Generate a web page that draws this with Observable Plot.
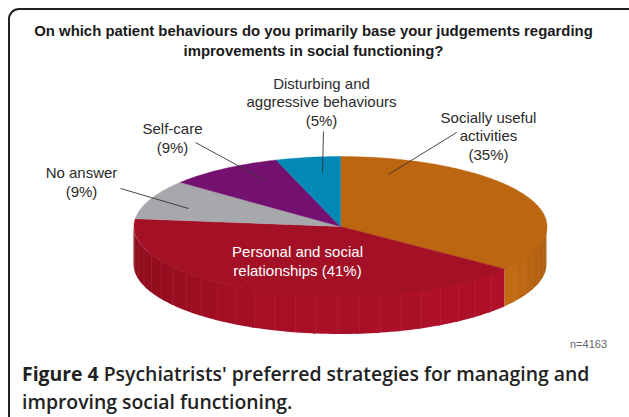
<!DOCTYPE html>
<html>
<head>
<meta charset="utf-8">
<script src="https://cdn.jsdelivr.net/npm/d3@7"></script>
<script src="https://cdn.jsdelivr.net/npm/@observablehq/plot@0.6"></script>
<style>
  html, body { margin: 0; padding: 0; background: #fff; }
  #page { position: relative; width: 629px; height: 417px; overflow: hidden; }
  #frame { position: absolute; left: 8px; top: 8px; width: 640px; height: 430px; box-sizing: border-box;
           border: 2px solid #222; border-radius: 11px; }
  #title { position: absolute; left: 0; top: 22px; width: 627px; text-align: center;
           font: bold 14.9px/19.5px "Liberation Sans", sans-serif; color: #1a1a1a; }
  #chart { position: absolute; left: 0; top: 60px; }
  #caption { position: absolute; left: 22px; top: 359.5px; width: 600px; color: #222; white-space: nowrap;
             font: 600 19.4px/28px "Open Sans", sans-serif; }
  #caption b { font-weight: 700; }
</style>
</head>
<body>
<div id="page">
  <div id="frame"></div>
  <div id="title">On which patient behaviours do you primarily base your judgements regarding<br>improvements in social functioning?</div>
  <div id="chart"></div>
  <div id="caption"><b>Figure 4</b> Psychiatrists' preferred strategies for managing and<br>improving social functioning.</div>
</div>
<script>
// Data, clockwise from twelve o'clock
const categories = ["Socially useful activities", "Personal and social relationships", "No answer", "Self-care", "Disturbing and aggressive behaviours"];
const shares = [35, 41, 9, 9, 5];
const colors = ["#BD6611", "#A41127", "#A7A8AB", "#74106F", "#0288B5"];
const sampleSize = "n=4163";

// Drawing set-up (pixels)
const W = 629, H = 290;
const cx = 340, cy = 166, R = 206.5, RY = 70, DEPTH = 38;
const total = d3.sum(shares);
const toRad = Math.PI / 180;
let run = 0;
const slices = shares.map((v, i) => {
  const a0 = run / total * 360; run += v;
  return {name: categories[i], color: colors[i], a0, a1: run / total * 360};
});

// Pie-space helpers: x and y in units of the radius, through Plot's scales
const ux = a => Math.sin(a * toRad);
const uy = a => -Math.cos(a * toRad) * RY / R;
const depth = DEPTH / R;

// Top faces
const topFace = slices.flatMap(s => {
  const n = Math.max(2, Math.ceil(s.a1 - s.a0));
  const arc = d3.range(n + 1).map(k => s.a0 + (s.a1 - s.a0) * k / n);
  const pts = [{x: 0, y: 0}, ...arc.map(a => ({x: ux(a), y: uy(a)})), {x: 0, y: 0}];
  return pts.map(p => ({...p, name: s.name, color: s.color}));
});

// Front wall, split into narrow facets shaded along the rim
const sideShade = {
  [categories[0]]: d3.scaleLinear().domain([90, slices[0].a1]).range(["#A65A0D", "#C46C16"]),
  [categories[1]]: d3.scaleLinear().domain([slices[1].a0, 200, 270]).range(["#B01029", "#A80F27", "#880C1A"])
};
const FACET = 6;
const wall = [];
const seams = [];
slices.slice(0, 2).forEach((s, i) => {
  const from = Math.max(s.a0, 90), to = Math.min(s.a1, 270);
  const n = Math.ceil((to - from) / FACET);
  d3.range(n).forEach(k => {
    const a = from + (to - from) * k / n, b = from + (to - from) * (k + 1) / n;
    // each facet runs a little under its neighbour so the colour is continuous
    const end = Math.min(b + 0.8, s.a1);
    d3.range(6).forEach(t => {
      const p = a + (end - a) * t / 5;
      wall.push({x: ux(p), y1: uy(p), y2: uy(p) + depth, id: i + "-" + k, color: sideShade[s.name]((a + b) / 2)});
    });
    if (k > 0) seams.push({x: ux(a), y1: uy(a), y2: uy(a) + depth});
  });
});

// Annotation placement, in pixels of the SVG, kept apart from the data
const labels = [
  {text: "Disturbing and\naggressive behaviours\n(5%)", px: 321, py: 41, color: "#2b2b2b"},
  {text: "Socially useful\nactivities\n(35%)", px: 488, py: 75, color: "#2b2b2b"},
  {text: "Self-care\n(9%)", px: 172, py: 77, color: "#2b2b2b"},
  {text: "No answer\n(9%)", px: 81, py: 121, color: "#2b2b2b"},
  {text: "Personal and social\nrelationships (41%)", px: 297, py: 200, color: "#fff"}
];
const leaders = [
  {p0: [323, 71], p1: [322, 112]},
  {p0: [456, 72], p1: [388, 114]},
  {p0: [195, 82], p1: [263, 119]},
  {p0: [120, 128], p1: [188, 148]}
];
const toX = p => (p - cx) / R, toY = p => (p - cy) / R;

const plot = Plot.plot({
  width: W, height: H,
  margin: 0,
  x: {domain: [toX(0), toX(W)], range: [0, W], axis: null},
  y: {domain: [toY(0), toY(H)], range: [0, H], axis: null},
  marks: [
    Plot.areaY(wall, {x: "x", y1: "y2", y2: "y1", z: "id", fill: "color"}),
    Plot.link(seams, {x1: "x", x2: "x", y1: "y1", y2: "y2", stroke: "#fff", strokeOpacity: 0.09, strokeWidth: 0.8}),
    Plot.line(topFace, {x: "x", y: "y", z: "name", fill: "color", stroke: "color", strokeWidth: 0.4, curve: "linear"}),
    Plot.link(leaders, {
      x1: d => toX(d.p0[0]), y1: d => toY(d.p0[1]),
      x2: d => toX(d.p1[0]), y2: d => toY(d.p1[1]),
      stroke: "#333", strokeWidth: 0.9
    }),
    Plot.text(labels, {
      x: d => toX(d.px), y: d => toY(d.py), text: "text", fill: "color",
      fontFamily: "Liberation Sans", fontSize: 15, lineHeight: 1.23, textAnchor: "middle"
    }),
    Plot.text([sampleSize], {
      x: () => toX(588), y: () => toY(284), text: d => d,
      fill: "#666", fontFamily: "Liberation Sans", fontSize: 11
    })
  ]
});
document.getElementById("chart").appendChild(plot);
</script>
</body>
</html>
